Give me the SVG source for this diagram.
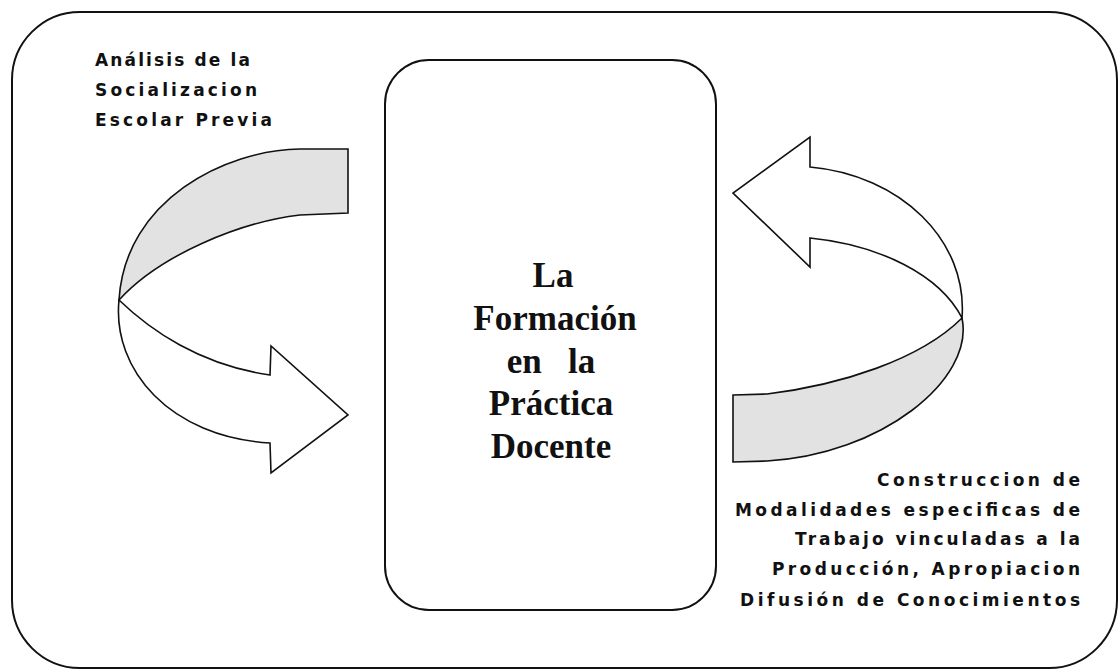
<svg xmlns="http://www.w3.org/2000/svg" width="1118" height="669" viewBox="0 0 1118 669">
  <style>
    .frame { fill: #ffffff; stroke: #111111; stroke-width: 2; }
    .box { fill: #ffffff; stroke: #111111; stroke-width: 2; }
    .band-shade { fill: #e2e2e2; stroke: #111111; stroke-width: 1.6; stroke-linejoin: miter; }
    .band-white { fill: #ffffff; stroke: #111111; stroke-width: 1.6; stroke-linejoin: miter; }
    .label { font-family: "DejaVu Sans", "Liberation Sans", sans-serif; font-weight: bold; font-size: 17px; fill: #111111; }
    .title { font-family: "Liberation Serif", "Times New Roman", serif; font-weight: bold; font-size: 35px; fill: #111111; text-anchor: middle; white-space: pre; }
  </style>
  <rect width="1118" height="669" fill="#ffffff"/>
  <g id="frame">
    <rect class="frame" x="12" y="12" width="1105" height="656" rx="68" ry="68"/>
  </g>
  <g id="connectors">
    <g id="arrow-left">
      <path class="band-shade" d="M348,149 L300,149 C225,150 125,200 119,300 C160,255 240,222 300,215 L348,213 Z"/>
      <path class="band-white" d="M119,300 C150,330 200,365 270,375 L271,346 L348,415 L271,473 L270,443 C170,437 112,370 119,300 Z"/>
    </g>
    <g id="arrow-right">
      <path class="band-shade" d="M733,395 L767,394 C840,385 920,360 962,318 C975,380 880,455 767,461 L733,462 Z"/>
      <path class="band-white" d="M962,318 C968,240 900,175 810,167 L810,137 L733,193 L810,267 L810,238 C880,245 940,275 962,318 Z"/>
    </g>
  </g>
  <g id="node-center">
    <rect class="box" x="385" y="60" width="331" height="550" rx="44" ry="44"/>
    <text class="title" x="553" y="287">La</text>
    <text class="title" x="555" y="330">Formación</text>
    <text class="title" x="551" y="373">en   la</text>
    <text class="title" x="551" y="415">Práctica</text>
    <text class="title" x="551" y="458">Docente</text>
  </g>
  <g id="label-left">
    <text class="label" x="95" y="66" textLength="155" lengthAdjust="spacing">Análisis de la</text>
    <text class="label" x="95" y="96" textLength="162" lengthAdjust="spacing">Socializacion</text>
    <text class="label" x="95" y="126" textLength="177" lengthAdjust="spacing">Escolar Previa</text>
  </g>
  <g id="label-right">
    <text class="label" x="877" y="486" textLength="203" lengthAdjust="spacing">Construccion de</text>
    <text class="label" x="735" y="516" textLength="345" lengthAdjust="spacing">Modalidades especificas de</text>
    <text class="label" x="795" y="545" textLength="285" lengthAdjust="spacing">Trabajo vinculadas a la</text>
    <text class="label" x="772" y="575" textLength="308" lengthAdjust="spacing">Producción, Apropiacion</text>
    <text class="label" x="740" y="606" textLength="340" lengthAdjust="spacing">Difusión de Conocimientos</text>
  </g>
</svg>
